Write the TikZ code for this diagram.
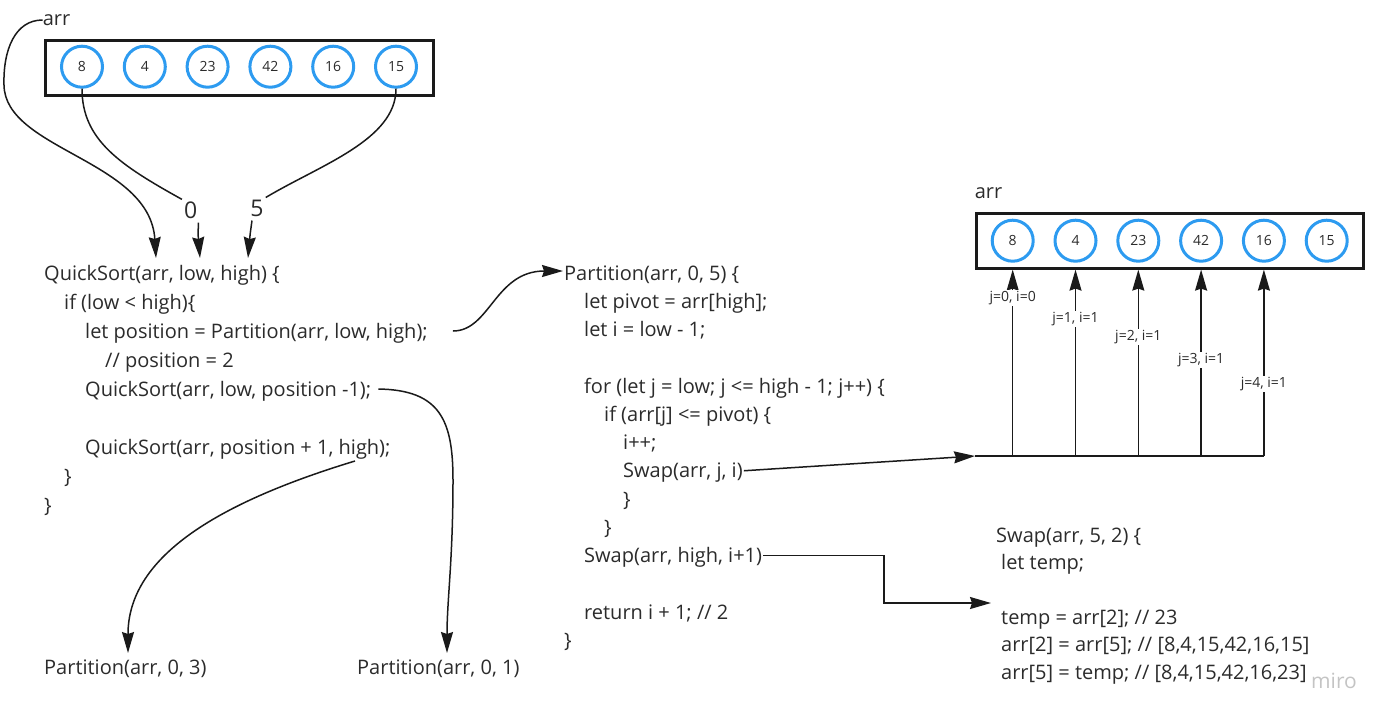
\documentclass[tikz,border=0pt]{standalone}
\usepackage{fontspec}
\setmainfont{Open Sans}
\usetikzlibrary{arrows.meta,calc}
\definecolor{ink}{HTML}{1A1A1A}
\definecolor{txt}{HTML}{2B2B2B}
\definecolor{blu}{HTML}{2D9BF0}
\definecolor{wm}{HTML}{C4C4C4}
\begin{document}
\begin{tikzpicture}[x=1pt,y=-1pt,
 code/.style={anchor=base west,inner sep=0pt,font=\fontsize{20}{24}\selectfont,text=txt},
 cell/.style={circle,draw=blu,line width=3pt,minimum size=41pt,inner sep=0pt,font=\fontsize{14}{16}\selectfont,text=txt},
 arrbox/.style={rectangle,draw=ink,line width=3pt,minimum width=387.5pt,minimum height=55pt,inner sep=0pt},
 conn/.style={draw=ink,line width=1.5pt},
 arw/.style={conn,-{Stealth[length=21pt,width=12pt,inset=2pt]}},
 steplab/.style={fill=white,inner sep=1.5pt,font=\fontsize{14}{16}\selectfont,text=txt},
 lab/.style={inner sep=0pt,font=\fontsize{20}{24}\selectfont,text=txt},
 idx/.style={inner sep=2pt,font=\fontsize{23}{26}\selectfont,text=txt},
]
\useasboundingbox (0,0) rectangle (1386,721);

% ---------- top array ----------
\node[lab] (arrA) at (56.5,20) {arr};
\node[arrbox] (topbox) at (239.6,67.5) {};
\foreach \v [count=\k] in {8,4,23,42,16,15}
  \node[cell] (c\k) at ({82+62.8*(\k-1)},66.7) {\v};

\node[idx] (zero) at (190.7,210) {0};
\node[idx] (five) at (257,208) {5};

\coordinate (tA) at (156,258);
\coordinate (tZ) at (200,258);
\coordinate (tF) at (248,258);

\draw[arw] (arrA.west) .. controls (15,20) and (3,50) .. (4,85)
  .. controls (5,150) and (150,160) .. (tA);
\draw[conn] (c1.south) .. controls (82,140) and (120,165) .. (zero.north west);
\draw[conn] (c6.south) .. controls (396,140) and (320,165) .. (five.north east);
\draw[arw] ($(zero.south east)+(-1,2)$) .. controls (198,235) .. (tZ);
\draw[arw] ($(five.south)+(-5,2)$) .. controls (250,235) .. (tF);

% ---------- QuickSort block ----------
\node[code] (qs1) at (44,280) {QuickSort(arr, low, high) \{};
\node[code] (qif) at (64,309) {if (low < high)\{};
\node[code] (lp)  at (85,338) {let position = Partition(arr, low, high);};
\node[code] (cm)  at (105,367) {// position = 2};
\node[code] (qs2) at (85,396) {QuickSort(arr, low, position -1);};
\node[code] (qs3) at (85,454) {QuickSort(arr, position + 1, high);};
\node[code] (qb1) at (64,483) {\}};
\node[code] (qb2) at (44,512) {\}};

\node[code] (part03) at (44,674) {Partition(arr, 0, 3)};
\node[code] (part01) at (357,674) {Partition(arr, 0, 1)};
\coordinate (t03) at (128,653);
\coordinate (t01) at (447,653);

\draw[arw] ($(qs2.base east)+(7,-7)$) .. controls (440,390) and (453,420) .. (453,480)
  .. controls (453,560) and (447,600) .. (t01);
\draw[arw] ($(qs3.base west)+(270,7)$) .. controls (210,505) and (128,560) .. (t03);

% ---------- Partition block ----------
\node[code] (p1)  at (564,280)    {Partition(arr, 0, 5) \{};
\node[code] (p2)  at (584,308.25) {let pivot = arr[high];};
\node[code] (p3)  at (584,336.5)  {let i = low - 1;};
\node[code] (p4)  at (584,393)    {for (let j = low; j <= high - 1; j++) \{};
\node[code] (p5)  at (604,421.25) {if (arr[j] <= pivot) \{};
\node[code] (p6)  at (623,449.5)  {i++;};
\node[code] (sw1) at (623,477.75) {Swap(arr, j, i)};
\node[code] (p8)  at (623,506)    {\}};
\node[code] (p9)  at (604,534.25) {\}};
\node[code] (sw2) at (584,562.5)  {Swap(arr, high, i+1)};
\node[code] (p11) at (584,619)    {return i + 1; // 2};
\node[code] (p12) at (564,647.25) {\}};

\draw[arw] ($(lp.base east)+(25,-7)$) .. controls (490,331) and (495,271) .. ($(p1.base west)+(-1,-9)$);

% ---------- right array ----------
\node[lab] (arrB) at (988.5,193) {arr};
\node[arrbox] (rbox) at (1170,241.1) {};
\foreach \v [count=\k] in {8,4,23,42,16,15}
  \node[cell] (r\k) at ({1012.7+62.8*(\k-1)},240.7) {\v};

\coordinate (hl) at (975,456);
\coordinate (hr) at (1263.9,456);
\draw[conn] (hl) -- (hr);
\foreach \k in {1,...,5}
  \draw[arw] (r\k |- hl) -- ($(r\k |- rbox.south)+(0,-0.5)$);

\node[steplab] (l1) at (1012.7,298) {j=0, i=0};
\node[steplab] (l2) at (1075.5,319) {j=1, i=1};
\node[steplab] (l3) at (1138.3,337) {j=2, i=1};
\node[steplab] (l4) at (1201.1,360) {j=3, i=1};
\node[steplab] (l5) at (1263.9,384) {j=4, i=1};

\draw[arw] ($(sw1.base east)+(1,-7)$) -- (hl);

% ---------- Swap block ----------
\node[code] (s1) at (996,542)   {Swap(arr, 5, 2) \{};
\node[code] (s2) at (1001,569.4) {let temp;};
\node[code] (s3) at (1001,624.2) {temp = arr[2]; // 23};
\node[code] (s4) at (1001,651.6) {arr[2] = arr[5]; // [8,4,15,42,16,15]};
\node[code] (s5) at (1001,679)   {arr[5] = temp; // [8,4,15,42,16,23]};

\coordinate (k1) at (884,603);
\coordinate (tS) at (991,603);
\draw[arw] ($(sw2.base east)+(1,-7)$) -| (k1) -- (tS);

\node[anchor=base west,inner sep=0pt,font=\fontsize{21}{22}\selectfont,text=wm] (miro) at (1311,688) {miro};
\end{tikzpicture}
\end{document}
